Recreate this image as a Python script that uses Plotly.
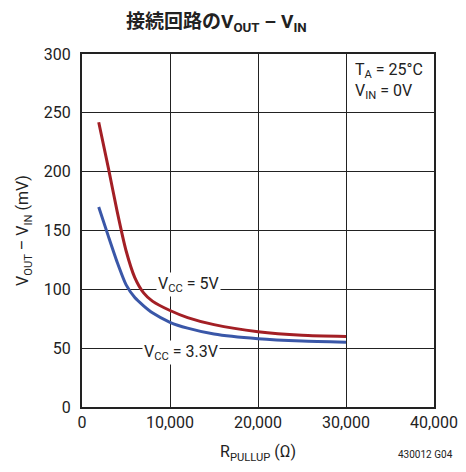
import plotly.graph_objects as go

r_pullup = [1900, 3000, 4000, 5000, 6000, 7000, 8000, 10000, 12000, 15000, 20000, 25000, 30000]
v_5v = [242, 203, 166, 133, 110, 97, 90, 82, 76, 70, 64, 61, 60]
v_33v = [170, 145, 123, 104, 93, 86, 80, 72, 67, 62, 58, 56, 55]

FONT = "Roboto, Liberation Sans Narrow, sans-serif"

fig = go.Figure()
fig.add_trace(go.Scatter(x=r_pullup, y=v_5v, mode="lines", line=dict(color="#a31f25", width=3, shape="spline", smoothing=0.6), showlegend=False))
fig.add_trace(go.Scatter(x=r_pullup, y=v_33v, mode="lines", line=dict(color="#3a57a8", width=3, shape="spline", smoothing=0.6), showlegend=False))

axis_common = dict(showgrid=True, gridcolor="#222", gridwidth=1, showline=True, linecolor="#222", linewidth=2,
                   mirror=True, zeroline=False, ticks="", automargin=False,
                   tickfont=dict(family=FONT, size=16, color="#222"))

fig.update_layout(
    width=450, height=456,
    margin=dict(l=74, r=24, t=46, b=57),
    paper_bgcolor="white", plot_bgcolor="white",
    font=dict(family=FONT, color="#222"),
    xaxis=dict(range=[0, 40000], tickvals=[0, 10000, 20000, 30000, 40000],
               ticktext=["0", "10,000", "20,000", "30,000", "40,000"], ticklabeloverflow="allow",
               title=dict(text="R<sub>PULLUP</sub> (Ω)", font=dict(family=FONT, size=16), standoff=15), **axis_common),
    yaxis=dict(range=[0, 300], tickvals=[0, 50, 100, 150, 200, 250, 300], ticklabelstandoff=6,
               title=dict(text="V<sub>OUT</sub> – V<sub>IN</sub> (mV)", font=dict(family=FONT, size=16), standoff=11), **axis_common),
)

fig.add_annotation(xref="paper", yref="paper", x=0.12, y=1.0, yshift=32, xanchor="left", yanchor="middle",
                   text="<b>接続回路のV<sub>OUT</sub> – V<sub>IN</sub></b>", showarrow=False,
                   font=dict(family="Roboto, Noto Sans CJK JP", size=19, color="#222"))
fig.add_annotation(x=30750, y=297, xanchor="left", yanchor="top", align="left", showarrow=False,
                   text="T<sub>A</sub> = 25°C<br>V<sub>IN</sub> = 0V", font=dict(family=FONT, size=16, color="#222"))
fig.add_annotation(x=12100, y=104, xanchor="center", yanchor="middle", showarrow=False, bgcolor="white",
                   text="V<sub>CC</sub> = 5V", font=dict(family=FONT, size=16, color="#222"))
fig.add_annotation(x=11200, y=46, xanchor="center", yanchor="middle", showarrow=False, bgcolor="white",
                   text="V<sub>CC</sub> = 3.3V", font=dict(family=FONT, size=16, color="#222"))
fig.add_annotation(xref="paper", yref="paper", x=1.06, y=0, yshift=-47, xanchor="right", yanchor="middle",
                   text="430012 G04", showarrow=False, font=dict(family=FONT, size=10, color="#222"))

fig.write_html("out.html")
